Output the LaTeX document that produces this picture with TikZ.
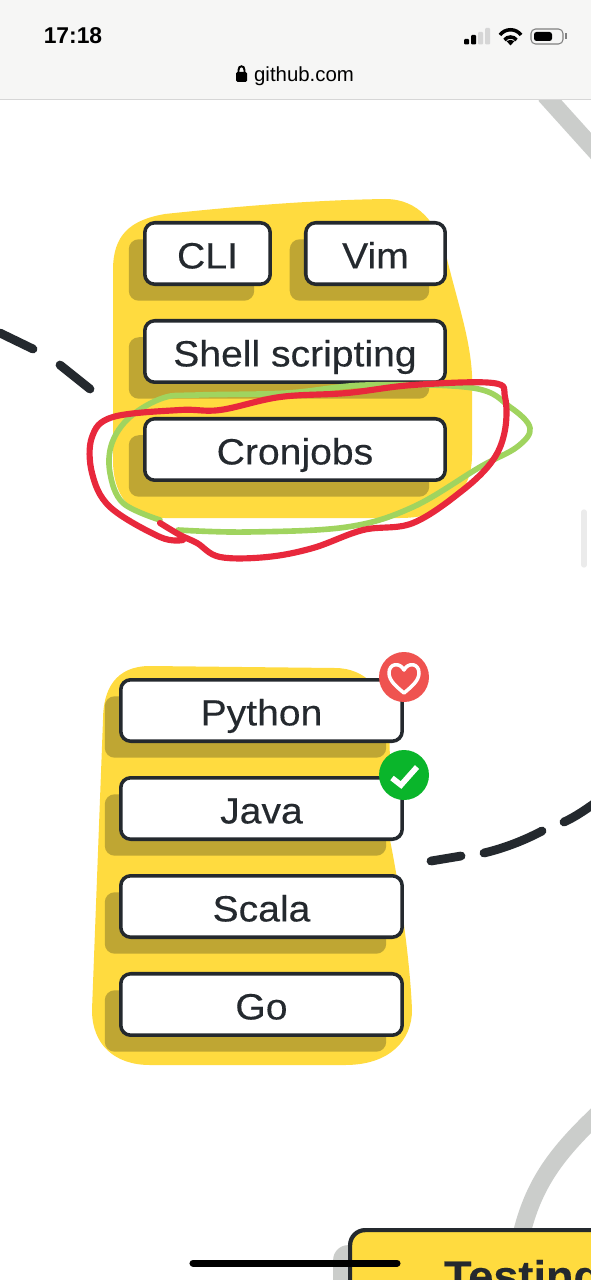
\documentclass[tikz,border=0pt]{standalone}
\usepackage{fontspec}
\setmainfont{Liberation Sans}
\newfontfamily\labelfont[FakeStretch=1.07,FakeBold=0.3]{Liberation Sans}
\usetikzlibrary{positioning,shadows,calc}
\definecolor{barbg}{HTML}{F6F6F5}
\definecolor{barline}{HTML}{D6D6D6}
\definecolor{blobyellow}{HTML}{FFDB3F}
\definecolor{blobshade}{HTML}{BFA633}
\definecolor{inkdark}{HTML}{24292E}
\definecolor{edgegrey}{HTML}{CBCDCB}
\definecolor{markred}{HTML}{E8283C}
\definecolor{markgreen}{HTML}{A0D45F}
\definecolor{heartred}{HTML}{EF5350}
\definecolor{checkgreen}{HTML}{0AB52B}
\begin{document}
\begin{tikzpicture}[
  x=0.02cm, y=-0.02cm,
  box/.style={rectangle, draw=inkdark, fill=white, line width=2pt, rounded corners=0.2cm, inner sep=0pt,
    minimum width=6.01cm, minimum height=1.23cm, text=inkdark, text height=17pt, text depth=0pt,
    font=\labelfont\fontsize{20.8}{24}\selectfont,
    general shadow={fill=blobshade, draw=none, shadow xshift=-0.32cm, shadow yshift=-0.33cm}},
  blob/.style={fill=blobyellow},
  dashline/.style={draw=inkdark, line width=5pt, line cap=round},
  greyline/.style={draw=edgegrey, line width=10pt},
  badge/.style={circle, minimum size=1cm, inner sep=0pt},
  scribble/.style={line cap=round, line join=round}
]
  \useasboundingbox (0,0) rectangle (591,1280);
  \fill[white] (0,0) rectangle (591,1280);

  \coordinate (topedgea) at (545,95);
  \coordinate (topedgeb) at (600,156);
  \draw[greyline] (topedgea) -- (topedgeb);
  \coordinate (lowedgea) at (522,1232);
  \coordinate (lowedgeb) at (600,1112);
  \draw[greyline] (lowedgea) .. controls (535,1180) and (560,1150) .. (lowedgeb);

  \fill[barbg] (0,0) rectangle (591,99);
  \draw[barline, line width=0.7pt] (0,99.5) -- (591,99.5);
  \node[font=\fontsize{13}{16}\selectfont\bfseries, text=black] (clock) at (73,36) {17:18};
  \node[font=\fontsize{11.6}{14}\selectfont, text=black, text height=8pt, text depth=2.3pt] (url) at (304,76) {github.com};
  \fill[black, rounded corners=0.03cm] (236,72) rectangle (247,82);
  \draw[black, line width=1.1pt] (238.5,73) -- (238.5,70) .. controls (238.5,65) and (244.5,65) .. (244.5,70) -- (244.5,73);
  \fill[black, rounded corners=0.02cm] (464,39) rectangle (469,44.5);
  \fill[black, rounded corners=0.02cm] (471,35) rectangle (476,44.5);
  \fill[barline, rounded corners=0.02cm] (478,32) rectangle (483,44.5);
  \fill[barline, rounded corners=0.02cm] (485,28) rectangle (490,44.5);
  \draw[black, line width=2pt] (500,35) .. controls (505,28) and (516,28) .. (521,35);
  \draw[black, line width=2pt] (504.5,40) .. controls (507,36) and (514,36) .. (516.5,40);
  \fill[black] (506.5,41) .. controls (509,39.5) and (512,39.5) .. (514.5,41) -- (510.5,45.5) -- cycle;
  \draw[gray, line width=0.6pt, rounded corners=0.09cm] (531,29) rectangle (563,44);
  \fill[black, rounded corners=0.05cm] (534,32) rectangle (552,41);
  \fill[gray] (565,33.5) rectangle (566.5,39.5);

  \fill[blob] (113,270) .. controls (113,235) and (130,220) .. (165,214)
    .. controls (250,205) and (320,200) .. (385,199)
    .. controls (420,199) and (436,225) .. (445,250)
    .. controls (455,295) and (470,335) .. (472,375)
    -- (472,455) .. controls (472,490) and (450,518) .. (400,518)
    -- (165,518) .. controls (130,518) and (113,495) .. (113,460) -- cycle;
  \fill[blob] (92,1010) .. controls (92,1045) and (115,1065) .. (150,1065)
    -- (345,1065) .. controls (390,1065) and (412,1040) .. (412,1010)
    .. controls (410,960) and (400,890) .. (390,840)
    .. controls (388,800) and (392,760) .. (388,720)
    .. controls (385,690) and (365,668) .. (335,668)
    -- (150,666) .. controls (115,666) and (103,690) .. (103,720) -- cycle;

  \node[box, minimum width=2.51cm, anchor=north west] (cli) at (143,221) {CLI};
  \node[box, minimum width=2.79cm, right=0.64cm of cli] (vim) {Vim};
  \node[box, below=0.66cm of cli.south west, anchor=north west] (shell) {Shell scripting};
  \node[box, below=0.66cm of shell] (cron) {Cronjobs};

  \node[box, minimum width=5.63cm, anchor=north west] (python) at (119,678) {Python};
  \node[box, minimum width=5.63cm, below=0.66cm of python] (java) {Java};
  \node[box, minimum width=5.63cm, below=0.66cm of java] (scala) {Scala};
  \node[box, minimum width=5.63cm, below=0.66cm of scala] (golang) {Go};

  \node[badge, fill=heartred] (heartbadge) at (404,677) {};
  \node[badge, fill=checkgreen] (checkbadge) at (404,775) {};
  \draw[white, fill=heartred, line width=2pt, line join=round, shift={(heartbadge.center)}]
    (0,16) .. controls (-7,10) and (-15,4) .. (-15,-4)
    .. controls (-15,-14) and (-4,-15) .. (0,-7)
    .. controls (4,-15) and (15,-14) .. (15,-4)
    .. controls (15,4) and (7,10) .. (0,16) -- cycle;
  \draw[white, line width=3.2pt, shift={(checkbadge.center)}] (-12,3) -- (-3,10) -- (13,-8);

  \coordinate (leftdasha) at (0,333);
  \coordinate (leftdashb) at (33,349);
  \coordinate (leftdashc) at (60,365);
  \coordinate (leftdashd) at (90,389);
  \draw[dashline] (leftdasha) -- (leftdashb);
  \draw[dashline] (leftdashc) -- (leftdashd);
  \coordinate (rightdasha) at (431,861);
  \coordinate (rightdashb) at (461,856);
  \coordinate (rightdashc) at (484,853);
  \coordinate (rightdashd) at (542,831);
  \coordinate (rightdashe) at (564,822);
  \coordinate (rightdashf) at (595,803);
  \draw[dashline] (rightdasha) -- (rightdashb);
  \draw[dashline] (rightdashc) .. controls (505,848) and (525,840) .. (rightdashd);
  \draw[dashline] (rightdashe) .. controls (575,817) and (585,810) .. (rightdashf);

  \draw[scribble, line width=3.2pt, markgreen] plot[smooth, tension=0.6] coordinates {(160,520) (123,503) (110,473) (112,443) (130,417) (163,398) (197,395) (287,393) (367,385) (473,388) (510,407) (530,428) (517,447) (480,467) (413,507) (347,527) (247,532) (178,530)};
  \draw[scribble, line width=3.5pt, markred] plot[smooth, tension=0.6] coordinates {(160,523) (180,535) (197,543) (220,557) (267,557) (313,548) (363,530) (413,523) (463,490) (493,460) (505,430) (505,397) (493,383) (413,385) (347,393) (280,397) (220,410) (180,410) (113,417) (92,437) (92,473) (110,507) (160,537) (183,540)};

  \node[rectangle, draw=inkdark, fill=blobyellow, line width=2.4pt, rounded corners=0.3cm, inner sep=0pt,
    minimum width=6.9cm, minimum height=1.82cm, anchor=north west, text=inkdark, text height=17pt, text depth=0pt,
    font=\labelfont\fontsize{24}{28}\selectfont\bfseries,
    general shadow={fill=edgegrey, draw=none, shadow xshift=-0.34cm, shadow yshift=-0.3cm}] (testing) at (348,1228) {Testing};

  \coordinate (homea) at (193,1263);
  \coordinate (homeb) at (397,1263);
  \draw[black, line width=4pt, line cap=round] (homea) -- (homeb);
  \coordinate (scrolla) at (584,512);
  \coordinate (scrollb) at (584,565);
  \draw[black!8, line width=3pt, line cap=round] (scrolla) -- (scrollb);
\end{tikzpicture}
\end{document}
